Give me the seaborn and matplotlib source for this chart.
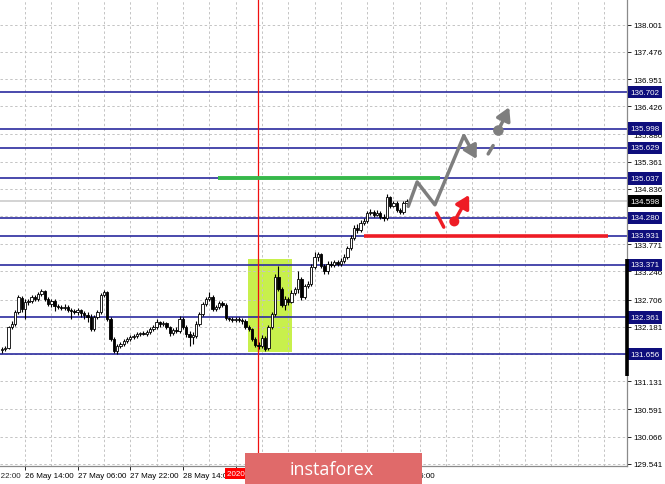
import numpy as np
import pandas as pd
import matplotlib
matplotlib.use("Agg")
import matplotlib.pyplot as plt
import matplotlib.transforms as mtransforms
from matplotlib.patches import Rectangle
import seaborn as sns

# ---------------- data ----------------
open_ = [131.73, 131.75, 131.77, 132.18, 132.23, 132.46, 132.73, 132.52, 132.66, 132.68,
         132.75, 132.72, 132.81, 132.87, 132.72, 132.62, 132.68, 132.58, 132.56, 132.54,
         132.56, 132.50, 132.48, 132.46, 132.50, 132.45, 132.41, 132.37, 132.14, 132.37,
         132.46, 132.79, 132.85, 132.33, 131.94, 131.71, 131.81, 131.85, 131.91, 131.94,
         131.98, 132.00, 132.04, 132.06, 132.04, 132.08, 132.14, 132.18, 132.27, 132.23,
         132.25, 132.18, 132.06, 132.12, 132.10, 132.33, 132.18, 132.04, 131.98, 132.00,
         132.23, 132.43, 132.62, 132.72, 132.75, 132.52, 132.56, 132.64, 132.60, 132.35,
         132.33, 132.31, 132.33, 132.31, 132.29, 132.18, 132.14, 131.94, 131.83, 131.81,
         131.96, 131.77, 132.18, 132.43, 133.14, 132.91, 132.60, 132.72, 132.66, 132.83,
         132.91, 133.10, 132.75, 132.97, 133.00, 133.33, 133.52, 133.58, 133.35, 133.25,
         133.39, 133.37, 133.43, 133.39, 133.45, 133.52, 133.70, 133.89, 134.08, 134.04,
         134.18, 134.22, 134.37, 134.39, 134.33, 134.37, 134.29, 134.27, 134.68, 134.51,
         134.56, 134.43, 134.39, 134.56]
high = [131.79, 131.81, 132.20, 132.29, 132.50, 132.79, 132.77, 132.72, 132.72, 132.79,
        132.79, 132.85, 132.91, 132.89, 132.75, 132.72, 132.72, 132.62, 132.60, 132.62,
        132.60, 132.54, 132.52, 132.54, 132.52, 132.48, 132.46, 132.43, 132.41, 132.50,
        132.83, 132.89, 132.87, 132.37, 131.98, 131.85, 131.89, 131.94, 131.98, 132.02,
        132.04, 132.08, 132.08, 132.10, 132.12, 132.18, 132.21, 132.33, 132.29, 132.29,
        132.27, 132.20, 132.16, 132.18, 132.39, 132.37, 132.21, 132.10, 132.08, 132.29,
        132.46, 132.66, 132.75, 132.85, 132.79, 132.60, 132.68, 132.68, 132.64, 132.37,
        132.37, 132.37, 132.37, 132.35, 132.33, 132.21, 132.16, 131.98, 131.89, 132.02,
        132.00, 132.21, 132.46, 133.20, 133.35, 132.95, 132.77, 132.75, 132.89, 132.95,
        133.25, 133.14, 133.00, 133.06, 133.39, 133.62, 133.62, 133.60, 133.39, 133.45,
        133.45, 133.47, 133.47, 133.50, 133.58, 133.74, 133.95, 134.14, 134.16, 134.24,
        134.27, 134.41, 134.45, 134.43, 134.43, 134.41, 134.35, 134.74, 134.70, 134.60,
        134.60, 134.47, 134.60, 134.64]
low = [131.67, 131.71, 131.75, 132.14, 132.20, 132.43, 132.46, 132.33, 132.60, 132.64,
       132.68, 132.68, 132.77, 132.68, 132.58, 132.56, 132.48, 132.52, 132.50, 132.50,
       132.46, 132.33, 132.43, 132.41, 132.37, 132.33, 132.27, 132.10, 132.10, 132.33,
       132.43, 132.75, 132.29, 131.91, 131.67, 131.66, 131.77, 131.81, 131.87, 131.91,
       131.94, 131.96, 132.00, 132.02, 132.00, 132.04, 132.10, 132.14, 132.18, 132.20,
       132.14, 132.00, 132.02, 132.06, 132.06, 132.14, 131.98, 131.81, 131.85, 131.96,
       132.20, 132.39, 132.58, 132.68, 132.48, 132.48, 132.52, 132.56, 132.31, 132.29,
       132.27, 132.27, 132.27, 132.23, 132.14, 132.10, 131.91, 131.79, 131.75, 131.77,
       131.71, 131.73, 132.14, 132.39, 132.87, 132.56, 132.50, 132.60, 132.64, 132.79,
       132.83, 132.70, 132.72, 132.93, 132.97, 133.29, 133.45, 133.31, 133.20, 133.20,
       133.33, 133.33, 133.35, 133.35, 133.41, 133.49, 133.66, 133.85, 133.99, 134.01,
       134.14, 134.18, 134.33, 134.29, 134.31, 134.26, 134.22, 134.24, 134.47, 134.49,
       134.39, 134.35, 134.35, 134.51]
close = [131.75, 131.77, 132.18, 132.23, 132.46, 132.75, 132.52, 132.66, 132.68, 132.75,
         132.72, 132.81, 132.87, 132.72, 132.62, 132.68, 132.58, 132.56, 132.54, 132.56,
         132.50, 132.48, 132.46, 132.50, 132.45, 132.41, 132.37, 132.14, 132.37, 132.46,
         132.79, 132.85, 132.33, 131.94, 131.71, 131.81, 131.85, 131.91, 131.94, 131.98,
         132.00, 132.04, 132.06, 132.04, 132.08, 132.14, 132.18, 132.27, 132.23, 132.25,
         132.18, 132.06, 132.12, 132.10, 132.33, 132.18, 132.04, 131.98, 132.02, 132.23,
         132.43, 132.62, 132.72, 132.75, 132.52, 132.56, 132.64, 132.60, 132.35, 132.33,
         132.31, 132.33, 132.31, 132.29, 132.18, 132.14, 131.94, 131.83, 131.81, 131.96,
         131.75, 132.18, 132.43, 133.14, 132.91, 132.60, 132.72, 132.66, 132.83, 132.91,
         133.10, 132.75, 132.97, 133.00, 133.33, 133.52, 133.58, 133.35, 133.25, 133.39,
         133.37, 133.43, 133.39, 133.45, 133.52, 133.70, 133.89, 134.08, 134.04, 134.18,
         134.22, 134.37, 134.39, 134.33, 134.37, 134.29, 134.27, 134.68, 134.51, 134.56,
         134.43, 134.39, 134.56, 134.60]

levels = [136.702, 135.998, 135.629, 135.037, 134.280, 133.931, 133.371, 132.361, 131.656]
current_price = 134.598
price_ticks = [138.001, 137.476, 136.951, 136.426, 135.886, 135.361, 134.836, 134.311,
               133.771, 133.246, 132.706, 132.181, 131.656, 131.131, 130.591, 130.066, 129.541]
time_labels = ["25 May 22:00", "26 May 14:00", "27 May 06:00", "27 May 22:00", "28 May 14:00",
               "29 May 06:00", "29 May 22:00", "1 Jun 14:00", "2 Jun 06:00"]
time_label_bars = [-9, 7, 23, 39, 55, 71, 87, 103, 119]
grid_bars = [7 + 8 * k for k in range(23)]
marker_bar = 77.8
marker_label = "2020.05.29 13:00"
zone_bars = [74.8, 88.1]
zone_prices = [131.69, 133.49]
green_bars = [65.7, 133.1]
green_price = 135.037
red_bars = [110.0, 184.2]
red_price = 133.931
range_bar_prices = [133.48, 131.24]

grey_path_x = [123.5, 126.2, 131.6, 140.4]
grey_path_y = [134.50, 134.97, 134.53, 135.86]
grey_arrow1_tip = (144.3, 135.41)
grey_dash_x = [147.8, 149.3]
grey_dash_y = [135.51, 135.67]
grey_dot = (150.9, 135.96)
grey_arrow2_tip = (154.2, 136.41)
red_dash_x = [132.1, 134.3]
red_dash_y = [134.37, 134.10]
red_dot = (137.5, 134.21)
red_arrow_tip = (142.0, 134.72)

# ---------------- style ----------------
sns.set_theme(style="white")
plt.rcParams["font.family"] = ["Liberation Sans", "DejaVu Sans"]

W, H = 665, 485
fig = plt.figure(figsize=(W / 100, H / 100), dpi=100)
fig.patch.set_facecolor("white")
ax = fig.add_axes([0, 18 / H, 627 / W, 467 / H])
ax.set_facecolor("white")
ax.set_xlim(-0.61, 190.0)
ax.set_ylim(129.50, 138.493)

TFS = 5.8
NAVY = "#0E0E7C"
LEVEL_COLOR = "#2B2B9E"
GREY = "#7E7E7E"
RED = "#EE1C25"

# grid / ticks
ax.set_yticks(price_ticks)
ax.set_yticklabels([f"{v:.3f}" for v in price_ticks])
ax.yaxis.tick_right()
ax.tick_params(axis="y", which="major", direction="out", length=3, width=0.6, pad=1.5,
               labelsize=TFS, colors="black", right=True, left=False,
               labelright=True, labelleft=False)
in_range = [(b, l) for b, l in zip(time_label_bars, time_labels) if b >= 0]
ax.set_xticks([b for b, _ in in_range])
ax.set_xticklabels([l for _, l in in_range])
for t in ax.get_xticklabels():
    t.set_horizontalalignment("left")
ax.set_xticks(grid_bars, minor=True)
ax.tick_params(axis="x", which="major", direction="out", length=3, width=0.6, pad=1.5,
               labelsize=TFS, colors="black", bottom=True)
ax.tick_params(axis="x", which="minor", length=0)
ax.set_axisbelow(True)
ax.grid(True, which="both", axis="both", color="#C4C4C4", lw=0.7, linestyle=(0, (2.5, 2.5)))

for s in ["left", "top"]:
    ax.spines[s].set_visible(False)
for s in ["right", "bottom"]:
    ax.spines[s].set_visible(True)
    ax.spines[s].set_color("#8A8A8A")
    ax.spines[s].set_linewidth(0.9)

# cut-off first time label
off = mtransforms.offset_copy(ax.get_xaxis_transform(), fig=fig, y=-4.5, units="points")
for b, l in zip(time_label_bars, time_labels):
    if b < 0:
        ax.text(b, 0, l, transform=off, ha="left", va="top", fontsize=TFS, clip_on=False)

# highlighted zone
ax.add_patch(Rectangle((zone_bars[0], zone_prices[0]), zone_bars[1] - zone_bars[0],
                       zone_prices[1] - zone_prices[0], fc="#C8F04C", ec="none", zorder=0.3))

# levels
for lv in levels:
    ax.axhline(lv, color=LEVEL_COLOR, lw=1.2, zorder=1)
ax.axhline(current_price, color="#C8C8C8", lw=1.1, zorder=0.9)
ax.axvline(marker_bar, color="#F01010", lw=0.9, zorder=1.2)

ax.plot(green_bars, [green_price, green_price], color="#36B84A", lw=2.8,
        solid_capstyle="butt", zorder=2)
ax.plot(red_bars, [red_price, red_price], color=RED, lw=2.6,
        solid_capstyle="butt", zorder=2)

# candles
df = pd.DataFrame({"o": open_, "h": high, "l": low, "c": close})
df["x"] = np.arange(len(df))
ax.vlines(df["x"], df["l"], df["h"], color="black", lw=0.8, zorder=3)
bottoms = np.minimum(df["o"], df["c"])
heights = np.maximum(np.abs(df["c"] - df["o"]), 0.01)
faces = np.where(df["c"] >= df["o"], "white", "black")
ax.bar(df["x"], heights, bottom=bottoms, width=0.72, color=faces, edgecolor="black",
       linewidth=0.6, zorder=3.2)

# forecast drawing
sns.lineplot(x=grey_path_x, y=grey_path_y, sort=False, estimator=None, color=GREY,
             lw=2.5, ax=ax, zorder=4)
arrow_kw = dict(arrowstyle="-|>,head_length=0.7,head_width=0.4", lw=2.5,
                shrinkA=0, shrinkB=0, mutation_scale=11)
ax.annotate("", xy=grey_arrow1_tip, xytext=(grey_path_x[-1], grey_path_y[-1]),
            arrowprops=dict(color=GREY, **arrow_kw), zorder=4)
sns.lineplot(x=grey_dash_x, y=grey_dash_y, sort=False, estimator=None, color=GREY,
             lw=2.5, ax=ax, zorder=4)
ax.annotate("", xy=grey_arrow2_tip, xytext=grey_dot,
            arrowprops=dict(color=GREY, **arrow_kw), zorder=4)
sns.scatterplot(x=[grey_dot[0]], y=[grey_dot[1]], s=58, color=GREY, edgecolor="none",
                ax=ax, zorder=5)
sns.lineplot(x=red_dash_x, y=red_dash_y, sort=False, estimator=None, color=RED,
             lw=2.5, ax=ax, zorder=4)
ax.annotate("", xy=red_arrow_tip, xytext=red_dot,
            arrowprops=dict(color=RED, **arrow_kw), zorder=4)
sns.scatterplot(x=[red_dot[0]], y=[red_dot[1]], s=52, color=RED, edgecolor="none",
                ax=ax, zorder=5)

# right-hand price labels
ytr = ax.get_yaxis_transform()
for lv in levels:
    ax.text(1.005, lv, f"{lv:.3f}", transform=ytr, ha="left", va="center", color="white",
            fontsize=TFS, clip_on=False, zorder=6,
            bbox=dict(boxstyle="square,pad=0.32", fc=NAVY, ec="none"))
ax.text(1.005, current_price, f"{current_price:.3f}", transform=ytr, ha="left", va="center",
        color="white", fontsize=TFS, clip_on=False, zorder=6,
        bbox=dict(boxstyle="square,pad=0.32", fc="black", ec="none"))
ax.plot([1.0, 1.0], range_bar_prices, transform=ytr, color="black", lw=2.6,
        solid_capstyle="butt", clip_on=False, zorder=6)

# vertical line time label
ax.text(marker_bar, -0.016, marker_label, transform=ax.get_xaxis_transform(), ha="center",
        va="center", color="white", fontsize=TFS, clip_on=False, zorder=6,
        bbox=dict(boxstyle="square,pad=0.25", fc="#FF0000", ec="none"))

# watermark banner
fig.patches.append(Rectangle((245 / W, 0), 177 / W, 31 / H, transform=fig.transFigure,
                             fc="#E06A6A", ec="none", zorder=10))
fig.text(331.5 / W, 15 / H, "instaforex", color="white", fontsize=13, ha="center",
         va="center", family=["Open Sans", "DejaVu Sans"], zorder=11)

fig.savefig("out.png", dpi=100, facecolor="white")
